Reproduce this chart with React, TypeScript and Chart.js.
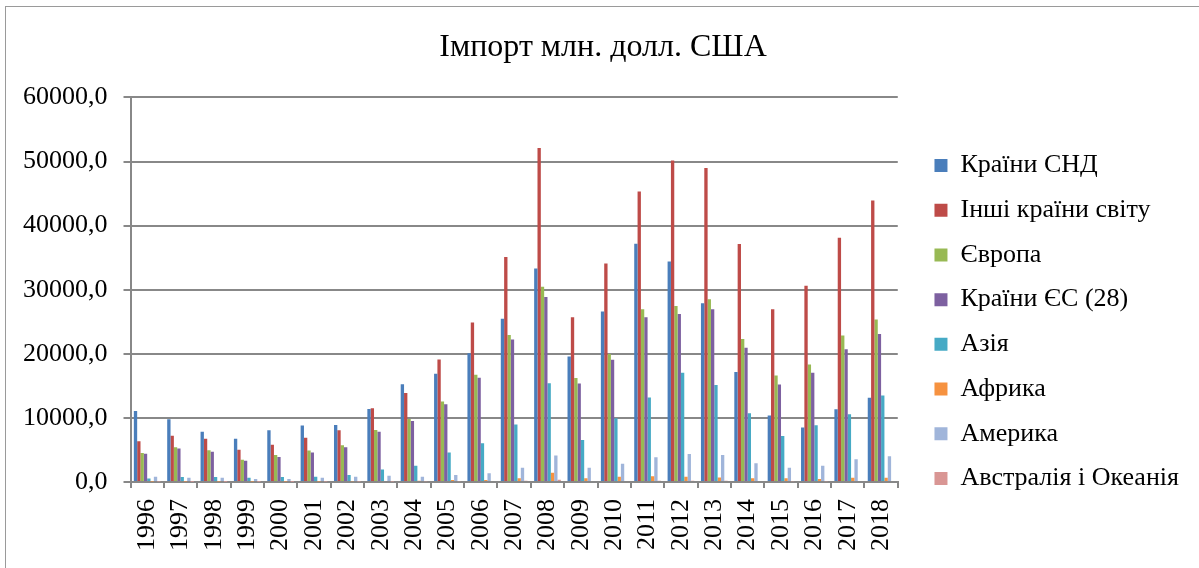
import React, { useEffect, useRef } from "react";
import { Chart, registerables } from "chart.js";

Chart.register(...registerables);

const years = ["1996","1997","1998","1999","2000","2001","2002","2003","2004","2005","2006","2007","2008","2009","2010","2011","2012","2013","2014","2015","2016","2017","2018"];

const cis = [11090, 9800, 7820, 6730, 8090, 8800, 8910, 11400, 15240, 16890, 20100, 25450, 33300, 19590, 26600, 37160, 34380, 27890, 17160, 10360, 8500, 11340, 13140];
const otherCountries = [6375, 7200, 6730, 5020, 5800, 6890, 8090, 11500, 13890, 19120, 24870, 35100, 52110, 25720, 34070, 45310, 50150, 48970, 37110, 26960, 30620, 38090, 43920];
const europe = [4510, 5440, 4970, 3470, 4200, 4910, 5750, 8130, 9840, 12540, 16740, 22940, 30460, 16240, 19950, 26960, 27470, 28510, 22320, 16600, 18350, 22840, 25360];
const eu28 = [4400, 5230, 4710, 3310, 3890, 4600, 5440, 7820, 9530, 12120, 16270, 22220, 28870, 15360, 19070, 25720, 26190, 26960, 20930, 15210, 17060, 20720, 23090];
const asia = [560, 780, 780, 670, 780, 820, 1090, 1960, 2530, 4610, 6060, 8970, 15410, 6550, 9950, 13200, 17060, 15150, 10720, 7160, 8870, 10570, 13510];
const africa = [80, 70, 70, 60, 70, 80, 100, 150, 200, 310, 310, 570, 1440, 570, 820, 880, 820, 720, 570, 570, 460, 670, 670];
const america = [820, 670, 670, 470, 470, 670, 820, 980, 820, 1090, 1350, 2220, 4120, 2220, 2840, 3870, 4380, 4230, 2940, 2220, 2530, 3560, 4020];
const oceania = [60, 50, 50, 40, 50, 60, 70, 80, 100, 120, 150, 200, 360, 150, 150, 200, 200, 200, 150, 120, 120, 150, 150];

const seriesNames = ["Країни СНД", "Інші країни світу", "Європа", "Країни ЄС (28)", "Азія", "Африка", "Америка", "Австралія і Океанія"];
const seriesColors = ["#4A7EBB", "#BE4B48", "#98B954", "#7D60A0", "#46AAC5", "#F69240", "#A0B5DA", "#D99694"];
const titleText = "Імпорт млн. долл. США";

const FONT = "'Liberation Serif', 'Times New Roman', serif";

// extra room between plot area and legend, and legend shifts
const LEGEND_GAP = 28;
const LEGEND_SHIFT_X = 18;
const LEGEND_SHIFT_Y = 41;

const legendTweak = {
  id: "legendTweak",
  beforeLayout(chart: any) {
    const lg = chart.legend;
    if (lg && !lg.__patched) {
      const orig = lg.fit.bind(lg);
      lg.fit = function () {
        orig();
        this.width += LEGEND_GAP;
      };
      lg.__patched = true;
    }
  },
  afterLayout(chart: any) {
    const lg = chart.legend;
    if (lg) {
      lg.left += LEGEND_SHIFT_X;
      lg.right += LEGEND_SHIFT_X;
      lg.top += LEGEND_SHIFT_Y;
      lg.bottom += LEGEND_SHIFT_Y;
    }
  },
};

export default function App() {
  const canvasRef = useRef<HTMLCanvasElement | null>(null);

  useEffect(() => {
    document.body.style.margin = "0";
    const canvas = canvasRef.current;
    if (!canvas) return;
    const seriesData = [cis, otherCountries, europe, eu28, asia, africa, america, oceania];
    const chart = new Chart(canvas, {
      type: "bar",
      data: {
        labels: years,
        datasets: seriesData.map((d, i) => ({
          label: seriesNames[i],
          data: d,
          backgroundColor: seriesColors[i],
          borderWidth: 0,
          categoryPercentage: 0.8,
          barPercentage: 1.0,
        })),
      },
      plugins: [legendTweak],
      options: {
        animation: false,
        responsive: false,
        maintainAspectRatio: false,
        layout: { padding: { left: 7, right: 0, top: 0, bottom: 6 } },
        plugins: {
          title: {
            display: true,
            text: titleText,
            color: "#000",
            font: { family: FONT, size: 32, weight: "normal" },
            padding: { top: 28, bottom: 31 },
          },
          legend: {
            display: true,
            position: "right",
            align: "center",
            labels: {
              color: "#000",
              font: { family: FONT, size: 26 },
              boxWidth: 13,
              boxHeight: 13,
              padding: 18.7,
            },
          },
          tooltip: { enabled: false },
        },
        scales: {
          x: {
            grid: {
              display: true,
              drawOnChartArea: false,
              drawTicks: true,
              tickLength: 6,
              color: "#888888",
              lineWidth: 2,
              offset: true,
            },
            border: { display: true, color: "#888888", width: 2 },
            ticks: {
              color: "#000",
              font: { family: FONT, size: 26 },
              minRotation: 90,
              maxRotation: 90,
              padding: 11,
              autoSkip: false,
            },
          },
          y: {
            min: 0,
            max: 60000,
            grid: {
              color: "#888888",
              lineWidth: 2,
              drawTicks: true,
              tickLength: 7,
            },
            border: { display: true, color: "#888888", width: 2 },
            ticks: {
              stepSize: 10000,
              color: "#000",
              font: { family: FONT, size: 26 },
              padding: 16,
              callback: (v: any) => Number(v).toFixed(1).replace(".", ","),
            },
          },
        },
      },
    });
    return () => chart.destroy();
  }, []);

  return (
    <div style={{ position: "relative", width: 1199, height: 568, overflow: "hidden", background: "#fff" }}>
      <div
        style={{
          position: "absolute",
          left: 5,
          top: 6,
          width: 1210,
          height: 580,
          border: "1px solid #9a9a9a",
          boxSizing: "border-box",
          pointerEvents: "none",
        }}
      />
      <canvas ref={canvasRef} width={1199} height={568} style={{ display: "block", width: 1199, height: 568 }} />
    </div>
  );
}
